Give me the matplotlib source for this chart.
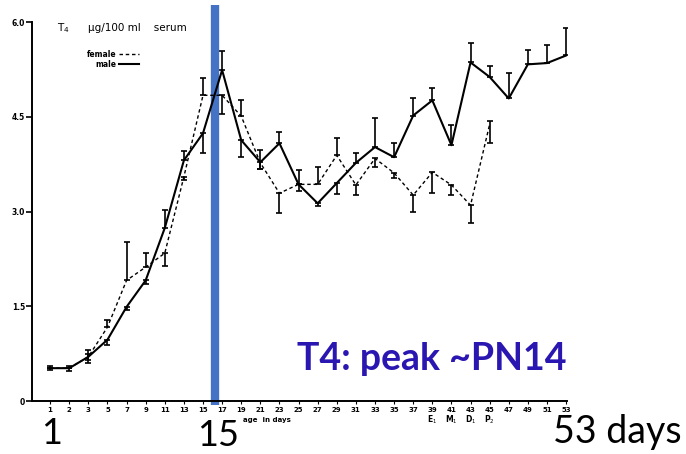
import numpy as np
import matplotlib.pyplot as plt

# data (T4, ug/100 ml serum)
days = ['1', '2', '3', '5', '7', '9', '11', '13', '15', '17', '19', '21', '23', '25',
        '27', '29', '31', '33', '35', '37', '39', '41', '43', '45', '47', '49', '51', '53']
cycle = {'39': 'E$_1$', '41': 'M$_1$', '43': 'D$_1$', '45': 'P$_2$'}

male = [0.52, 0.52, 0.70, 0.97, 1.49, 1.91, 2.74, 3.81, 4.24, 5.24, 4.13, 3.78, 4.08, 3.43,
        3.13, 3.45, 3.77, 4.02, 3.86, 4.52, 4.76, 4.05, 5.36, 5.13, 4.79, 5.33, 5.35, 5.47]
male_lo = [0.03, 0.05, 0.10, 0.08, 0.05, 0.05, 0.0, 0.0, 0.32, 0.0, 0.26, 0.10, 0.0, 0.10,
           0.05, 0.18, 0.0, 0.0, 0.0, 0.0, 0.0, 0.0, 0.0, 0.0, 0.0, 0.0, 0.0, 0.0]
male_hi = [0.03, 0.03, 0.10, 0.0, 0.0, 0.0, 0.28, 0.15, 0.0, 0.30, 0.0, 0.0, 0.18, 0.0,
           0.0, 0.0, 0.15, 0.46, 0.22, 0.27, 0.19, 0.32, 0.30, 0.17, 0.40, 0.22, 0.28, 0.43]

female = [0.52, 0.52, 0.70, 1.17, 1.91, 2.12, 2.34, 3.55, 4.84, 4.84, 4.51, 3.77, 3.29, 3.43,
          3.43, 3.89, 3.42, 3.84, 3.61, 3.26, 3.62, 3.42, 3.10, 4.38]
female_lo = [0.0, 0.0, 0.05, 0.0, 0.0, 0.0, 0.20, 0.05, 0.0, 0.30, 0.0, 0.10, 0.32, 0.0,
             0.0, 0.0, 0.16, 0.14, 0.08, 0.27, 0.33, 0.16, 0.28, 0.30]
female_hi = [0.0, 0.0, 0.05, 0.12, 0.60, 0.22, 0.0, 0.0, 0.28, 0.0, 0.25, 0.20, 0.0, 0.22,
             0.27, 0.27, 0.0, 0.0, 0.0, 0.0, 0.0, 0.0, 0.0, 0.05]

yticks = [0, 1.5, 3.0, 4.5, 6.0]
ylabels = ['0', '1.5', '3.0', '4.5', '6.0']

fig = plt.figure(figsize=(6.86, 4.54), dpi=100)
ax = fig.add_axes([0.0466, 0.1167, 0.780, 0.8348])

x = np.arange(len(days))
xf = np.arange(len(female))

eb_m = ax.errorbar(x, male, yerr=[male_lo, male_hi], color='black', lw=1.5,
                   elinewidth=1.2, capsize=2, capthick=1.2, label='male')
eb_f = ax.errorbar(xf, female, yerr=[female_lo, female_hi], color='black', lw=1.0,
                   ls=(0, (2.5, 2)), elinewidth=1.2, capsize=2, capthick=1.2, label='female')

ax.set_xlim(-0.95, 27.05)
ax.set_ylim(0, 6.0)
for s in ['top', 'right']:
    ax.spines[s].set_visible(False)
ax.spines['left'].set_linewidth(1.4)
ax.spines['bottom'].set_linewidth(1.4)

ax.set_xticks(x)
ax.set_xticklabels(days, fontsize=5, fontweight='bold')
ax.set_yticks(yticks)
ax.set_yticklabels(ylabels, fontsize=5.5, fontweight='bold')
ax.tick_params(axis='x', length=2, pad=2)
ax.tick_params(axis='y', length=4, width=1.2, pad=1)

# oestrous cycle marks under the late ticks
for i, d in enumerate(days):
    if d in cycle:
        ax.text(i, -0.2, cycle[d], ha='center', va='top', fontsize=5.5,
                fontweight='bold')
ax.text(10.1, -0.25, 'age  in days', ha='left', va='top', fontsize=5, fontweight='bold')

ax.text(0.35, 6.0 - 0.1, 'T$_4$', fontsize=7.5, va='center')
ax.text(2.0, 6.0 - 0.1, 'µg/100 ml    serum', fontsize=7.5, va='center')

ax.legend(handles=[eb_f[0], eb_m[0]], labels=['female', 'male'], markerfirst=False,
          frameon=False, prop={'weight': 'bold', 'size': 5.5},
          handlelength=2.6, handletextpad=0.3, labelspacing=0.15,
          loc='upper left', bbox_to_anchor=(0.09, 0.945))

# slide annotations
ax.plot([8.65, 8.65], [-0.07, 6.27], color='#4472C4', lw=6, clip_on=False, solid_capstyle='butt')
fig.text(297 / 686, 1 - 359 / 454, 'T4: peak ~PN14', color='#2A16B0', fontsize=27,
         fontweight='bold', family='Lato', va='center', ha='left')
fig.text(52 / 686, 1 - 434 / 454, '1', fontsize=26, family='Lato', va='center', ha='center')
fig.text(218 / 686, 1 - 436 / 454, '15', fontsize=26, family='Lato', va='center', ha='center')
fig.text(553 / 686, 1 - 432 / 454, '53 days', fontsize=27, family='Lato', va='center', ha='left')

fig.savefig('out.png', dpi=100)
